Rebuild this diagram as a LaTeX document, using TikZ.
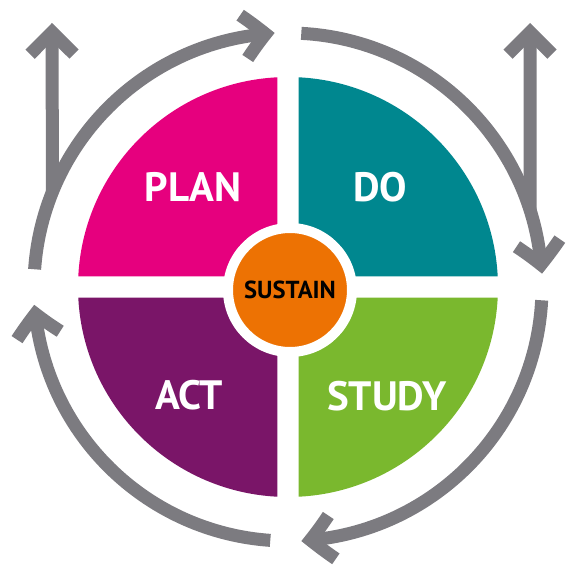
\documentclass[tikz,border=0pt]{standalone}
\usepackage{fontspec}
\setsansfont{PT Sans}
\usetikzlibrary{positioning,arrows.meta,bending}
\definecolor{plancol}{HTML}{E6007E}
\definecolor{docol}{HTML}{00878F}
\definecolor{actcol}{HTML}{7A1568}
\definecolor{studycol}{HTML}{7AB82E}
\definecolor{sustaincol}{HTML}{ED7203}
\definecolor{loopgrey}{RGB}{124,123,128}
\tikzset{
  cyclearrow/.style={draw=loopgrey,line width=6.5pt,-{Straight Barb[length=11pt,width=22pt,sharp,bend]}},
  phase/.style={text=white,font=\sffamily\bfseries\fontsize{20.5}{20.5}\selectfont},
  hub/.style={shape=circle,fill=sustaincol,draw=white,line width=5pt,minimum size=62pt,inner sep=0pt,
    font=\sffamily\bfseries\fontsize{12.3}{13}\selectfont}
}

\begin{document}
\begin{tikzpicture}[x=0.5pt,y=0.5pt]
      \useasboundingbox (-288,-281) rectangle (278,287);
      % quarters of the wheel
      \fill[plancol] (-10.5,10.5) -- (92.87:210) arc[start angle=92.87,end angle=177.13,radius=210] -- cycle;
      \fill[docol] (10.5,10.5) -- (2.87:210) arc[start angle=2.87,end angle=87.13,radius=210] -- cycle;
      \fill[actcol] (-10.5,-10.5) -- (182.87:210) arc[start angle=182.87,end angle=267.13,radius=210] -- cycle;
      \fill[studycol] (10.5,-10.5) -- (272.87:210) arc[start angle=272.87,end angle=357.13,radius=210] -- cycle;
      \node[phase] (plan) at (-95,100) {PLAN};
      \node[phase] (do) at (92,100) {DO};
      \node[phase] (act) at (-99,-108) {ACT};
      \node[phase] (study) at (99,-109) {STUDY};
      \node[hub] (sustain) at (2,-3) {SUSTAIN};
      % outer cycle
      \draw[cyclearrow] (176:254) arc[start angle=176,end angle=93,radius=254];
      \draw[cyclearrow] (87:254) arc[start angle=87,end angle=3,radius=254];
      \draw[cyclearrow] (-3:254) arc[start angle=-3,end angle=-87,radius=254];
      \draw[cyclearrow] (-94:254) arc[start angle=-94,end angle=-176,radius=254];
      % side arrows
      \coordinate (lfoot) at (158:254);
      \coordinate (ltip) at (-236,264);
      \coordinate (rfoot) at (17.6:254);
      \coordinate (rtip) at (242,264);
      \draw[cyclearrow] (lfoot) -- (ltip);
      \draw[cyclearrow] (rfoot) -- (rtip);
\end{tikzpicture}
\end{document}
